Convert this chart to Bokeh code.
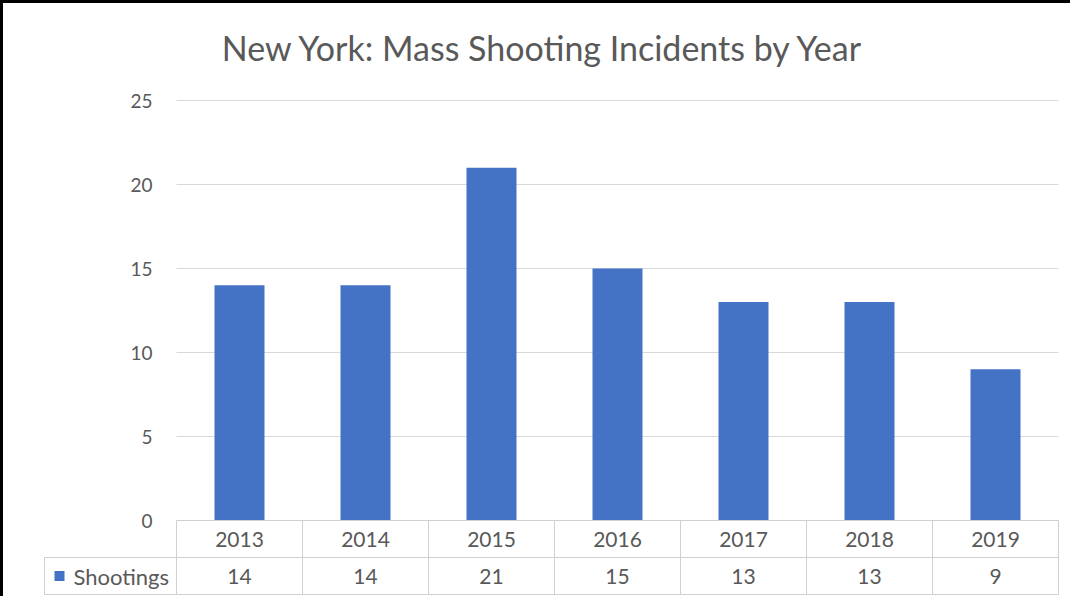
from bokeh.plotting import figure
from bokeh.models import Range1d, Label, ColumnDataSource
from bokeh.core.properties import value
from bokeh.embed import file_html
from bokeh.resources import INLINE

# ---- data ----
years = ["2013", "2014", "2015", "2016", "2017", "2018", "2019"]
shootings = [14, 14, 21, 15, 13, 13, 9]
y_ticks = [0, 5, 10, 15, 20, 25]
series_name = "Shootings"
title_text = "New York: Mass Shooting Incidents by Year"

# ---- layout constants (page pixels measured on reference) ----
W, H = 1070, 596
L, T = 11, 11              # canvas origin on page
CAT_LEFT_PX = 184          # left edge of first category
CAT_W_PX = 126             # width of one category
ZERO_PX = 528              # y pixel of value 0
UNIT_PX = 16.8             # pixels per value unit
ROW_PX = 37                # table row height
LEG_W_PX = 132             # width of legend cell

FONT = "Lato"
GREY = "#595959"
GRID = "#d9d9d9"
BAR = "#4472C4"

x0 = -0.5 + (L - CAT_LEFT_PX) / CAT_W_PX
x1 = -0.5 + (L + W - CAT_LEFT_PX) / CAT_W_PX
y1 = (ZERO_PX - T) / UNIT_PX
y0 = -(T + H - ZERO_PX) / UNIT_PX

p = figure(width=W, height=H, output_backend="svg", toolbar_location=None,
           x_range=Range1d(x0, x1), y_range=Range1d(y0, y1),
           min_border=0, min_border_left=0, min_border_right=0,
           min_border_top=0, min_border_bottom=0,
           styles={"border-left": "3px solid black", "border-top": "3px solid black"})
p.axis.visible = False
p.grid.visible = False
p.outline_line_color = None
p.background_fill_color = "white"
p.border_fill_color = "white"

n = len(years)
xs = list(range(n))
left_edge = -0.5
right_edge = n - 0.5

# gridlines
p.segment(x0=[left_edge] * len(y_ticks), x1=[right_edge] * len(y_ticks),
          y0=y_ticks, y1=y_ticks, line_color=GRID, line_width=1)

# tick labels
p.text(x=[left_edge] * len(y_ticks), y=y_ticks, text=[str(t) for t in y_ticks],
       x_offset=-24, text_align="right", text_baseline="middle",
       text_font=value(FONT), text_font_size="19px", text_color=GREY)

# bars
src = ColumnDataSource(dict(x=xs, top=shootings, year=years,
                            lab=[str(v) for v in shootings]))
p.vbar(x="x", top="top", bottom=0, width=50 / CAT_W_PX, source=src,
       fill_color=BAR, line_color=None)

# data table
row = ROW_PX / UNIT_PX
leg_left = left_edge - LEG_W_PX / CAT_W_PX
TBL = "#d0d0d0"
p.segment(x0=[left_edge, leg_left, leg_left], x1=[right_edge] * 3,
          y0=[0, -row, -2 * row], y1=[0, -row, -2 * row], line_color=TBL)
vx = [i - 0.5 for i in range(n + 1)]
p.segment(x0=vx, x1=vx, y0=[0] * len(vx), y1=[-2 * row] * len(vx), line_color=TBL)
p.segment(x0=[leg_left], x1=[leg_left], y0=[-row], y1=[-2 * row], line_color=TBL)

p.text(x="x", y=-row / 2, text="year", source=src, text_align="center",
       text_baseline="middle", text_font=value(FONT), text_font_size="21px",
       text_color=GREY)
p.text(x="x", y=-1.5 * row, text="lab", source=src, text_align="center",
       text_baseline="middle", text_font=value(FONT), text_font_size="21px",
       text_color=GREY)

# legend key
p.scatter(x=[leg_left + 15 / CAT_W_PX], y=[-1.5 * row], marker="square", size=10,
          fill_color=BAR, line_color=None)
p.text(x=[leg_left + 29 / CAT_W_PX], y=[-1.5 * row], text=[series_name],
       text_align="left", text_baseline="middle", text_font=value(FONT),
       text_font_size="22px", text_color=GREY)

# title
p.add_layout(Label(x=551 - L, y=H - (55 - T), x_units="screen", y_units="screen",
                   text=title_text, text_align="center", text_baseline="middle",
                   text_font=FONT, text_font_size="34px", text_color=GREY))

open("out.html", "w").write(file_html(p, INLINE))
